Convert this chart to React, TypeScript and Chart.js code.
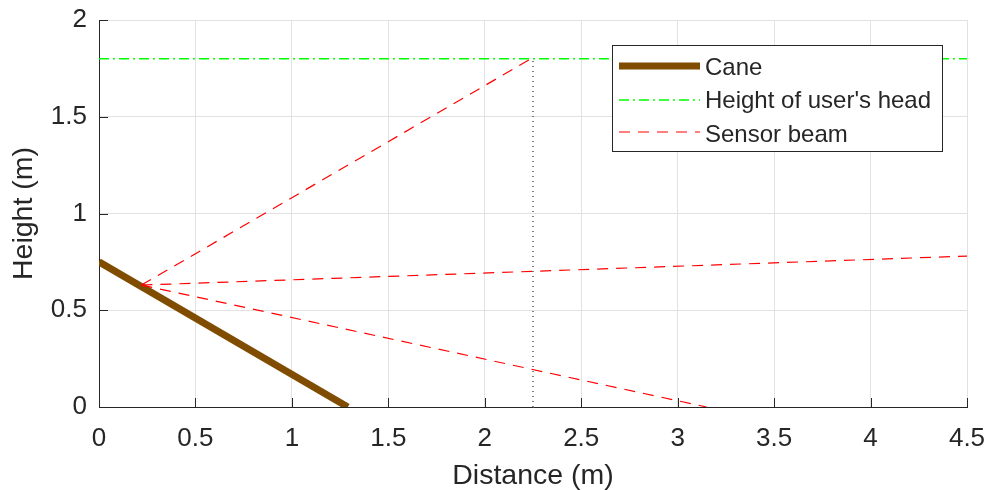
import React, { useEffect, useRef } from "react";
import { Chart, registerables } from "chart.js";
Chart.register(...registerables);

// Data
const caneX = [0, 1.29];
const caneY = [0.75, 0];
const headHeight = 1.8;
const xRange = [0, 4.5];
const sensorOrigin = [0.22, 0.63];
const beamEndX = [2.24, 4.5, 3.15];
const beamEndY = [1.8, 0.78, 0];
const markerX = 2.25;
const markerY = [0, 1.8];
const xTicks = [0, 0.5, 1, 1.5, 2, 2.5, 3, 3.5, 4, 4.5];
const yTicks = [0, 0.5, 1, 1.5, 2];
const legendLabels = ["Cane", "Height of user's head", "Sensor beam"];

const FONT = "'Liberation Sans', Arial, Helvetica, sans-serif";
const AX = "#262626";
const BEAM_DASH = [11, 8];
const HEAD_DASH = [10, 4, 2, 4];

const pts = (xs: number[], ys: number[]) => xs.map((x, i) => ({ x, y: ys[i] }));

const zeroPad = (s: any) => {
  s.paddingTop = 0;
  s.paddingBottom = 0;
  s.paddingLeft = 0;
  s.paddingRight = 0;
};

export default function App() {
  const ref = useRef<HTMLCanvasElement>(null);
  useEffect(() => {
    document.body.style.margin = "0";
    const ctx = ref.current!.getContext("2d")!;
    const beams = beamEndX.map((ex, i) => ({
      label: legendLabels[2],
      data: pts([sensorOrigin[0], ex], [sensorOrigin[1], beamEndY[i]]),
      borderColor: "#ff0000",
      borderWidth: 1.2,
      borderDash: BEAM_DASH,
      order: 2,
    }));
    const inwardTicks = {
      id: "inwardTicks",
      afterDatasetsDraw(chart: any) {
        const c = chart.ctx;
        const a = chart.chartArea;
        const xs = chart.scales.x;
        const ys = chart.scales.y;
        c.save();
        c.strokeStyle = AX;
        c.lineWidth = 1;
        c.beginPath();
        xTicks.forEach((t) => {
          const px = Math.round(xs.getPixelForValue(t)) + 0.5;
          c.moveTo(px, a.bottom);
          c.lineTo(px, a.bottom - 9);
        });
        yTicks.forEach((t) => {
          const py = Math.round(ys.getPixelForValue(t)) + 0.5;
          c.moveTo(a.left, py);
          c.lineTo(a.left + 9, py);
        });
        c.stroke();
        c.restore();
      },
    };
    const legendBox = {
      id: "legendBox",
      afterDraw(chart: any) {
        const c = chart.ctx;
        const a = chart.chartArea;
        const w = 330;
        const h = 106;
        const x0 = a.right - 25 - w;
        const y0 = a.top + 25;
        c.save();
        c.fillStyle = "#ffffff";
        c.fillRect(x0, y0, w, h);
        c.strokeStyle = AX;
        c.lineWidth = 1;
        c.strokeRect(Math.round(x0) + 0.5, Math.round(y0) + 0.5, w, h);
        const rows = [
          { color: "#7f4c00", width: 7, dash: [] as number[], ly: 21 },
          { color: "#00ff00", width: 1.5, dash: HEAD_DASH, ly: 55 },
          { color: "#ff0000", width: 1.2, dash: BEAM_DASH, ly: 87 },
        ];
        rows.forEach((r, i) => {
          const ty = y0 + 23 + i * 33.5;
          c.beginPath();
          c.strokeStyle = r.color;
          c.lineWidth = r.width;
          c.setLineDash(r.dash);
          c.moveTo(x0 + 7, y0 + r.ly);
          c.lineTo(x0 + 88, y0 + r.ly);
          c.stroke();
          c.setLineDash([]);
          c.fillStyle = AX;
          c.font = `24px ${FONT}`;
          c.textBaseline = "middle";
          c.fillText(legendLabels[i], x0 + 93, ty);
        });
        c.restore();
      },
    };
    const chart = new Chart(ctx, {
      type: "scatter",
      data: {
        datasets: [
          {
            label: legendLabels[0],
            data: pts(caneX, caneY),
            borderColor: "#7f4c00",
            borderWidth: 7,
            order: 5,
          },
          {
            label: legendLabels[1],
            data: pts(xRange, [headHeight, headHeight]),
            borderColor: "#00ff00",
            borderWidth: 1.5,
            borderDash: HEAD_DASH,
            order: 4,
          },
          ...beams,
          {
            label: "marker",
            data: pts([markerX, markerX], markerY),
            borderColor: "#000000",
            borderWidth: 1,
            borderDash: [1, 4],
            order: 1,
          },
        ] as any,
      },
      options: {
        animation: false,
        responsive: false,
        showLine: true,
        elements: { point: { radius: 0, hoverRadius: 0 }, line: { tension: 0 } },
        layout: { padding: { top: 20, right: 21, left: 0, bottom: 0 } },
        plugins: { legend: { display: false }, tooltip: { enabled: false } },
        scales: {
          x: {
            type: "linear",
            min: 0,
            max: 4.5,
            afterBuildTicks: (s: any) => {
              s.ticks = xTicks.map((v) => ({ value: v }));
            },
            afterFit: (s: any) => {
              s.height = 83;
              zeroPad(s);
            },
            ticks: {
              font: { size: 26, family: FONT },
              color: AX,
              padding: 16,
              maxRotation: 0,
              autoSkip: false,
              callback: (v: any) => String(v),
            },
            grid: { color: "#e2e2e2", drawTicks: false },
            border: { color: AX },
            title: {
              display: true,
              text: "Distance (m)",
              font: { size: 28.5, family: FONT },
              color: AX,
              padding: { top: 0, bottom: -3 },
            },
          },
          y: {
            type: "linear",
            min: 0,
            max: 2,
            afterBuildTicks: (s: any) => {
              s.ticks = yTicks.map((v) => ({ value: v }));
            },
            afterFit: (s: any) => {
              s.width = 99;
              zeroPad(s);
            },
            ticks: {
              font: { size: 26, family: FONT },
              color: AX,
              padding: 12,
              autoSkip: false,
              callback: (v: any) => String(v),
            },
            grid: { color: "#e2e2e2", drawTicks: false },
            border: { color: AX },
            title: {
              display: true,
              text: "Height (m)",
              font: { size: 28.5, family: FONT },
              color: AX,
              padding: { top: 7, bottom: 0 },
            },
          },
        },
      } as any,
      plugins: [inwardTicks, legendBox],
    });
    return () => chart.destroy();
  }, []);
  return <canvas ref={ref} width={988} height={490} style={{ display: "block" }} />;
}
